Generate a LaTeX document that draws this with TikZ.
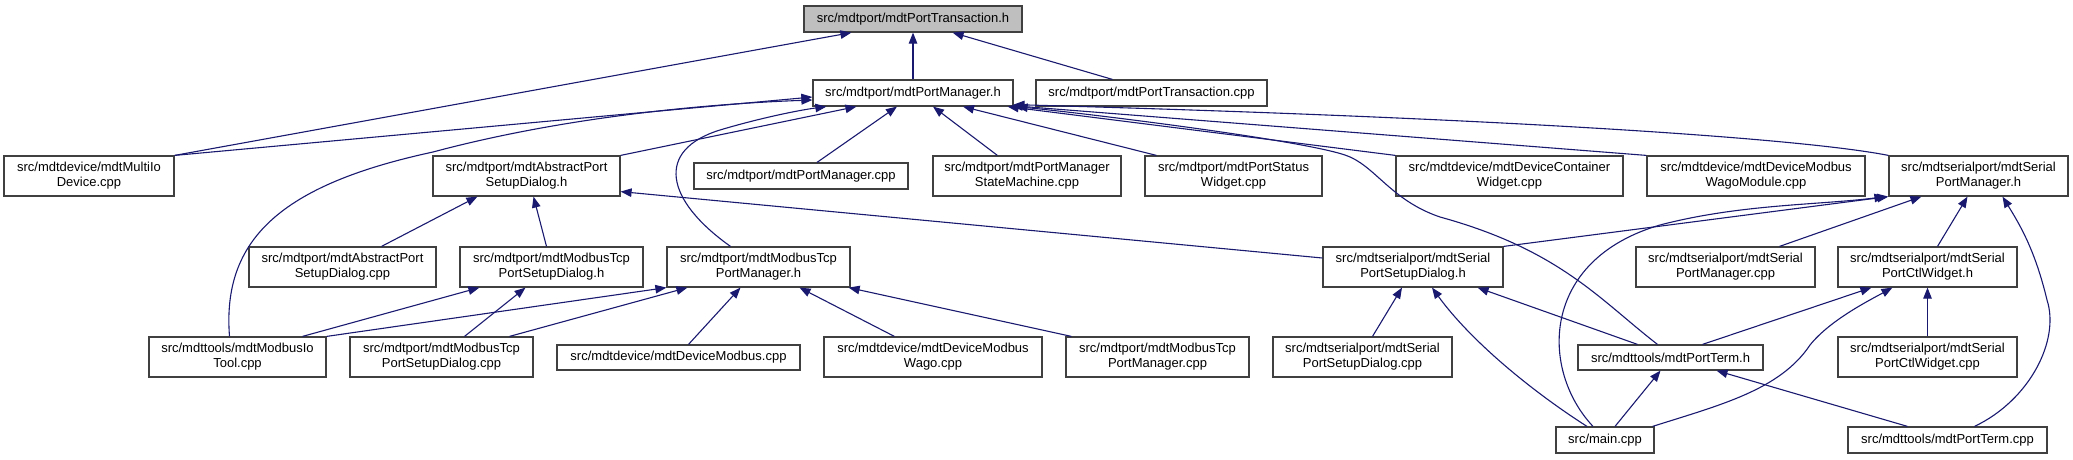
\documentclass[tikz,border=0pt]{standalone}
\usepackage{fontspec}
\setmainfont{Liberation Sans}
\usepackage{tikz}
\usetikzlibrary{arrows.meta}
\definecolor{edgeblue}{RGB}{25,25,112}
\definecolor{rootgray}{RGB}{191,191,191}
\definecolor{boxline}{RGB}{64,64,64}

\begin{document}
\begin{tikzpicture}[x=1pt,y=-1pt,>={Triangle[length=11pt,width=8.5pt]}]
\tikzset{b/.style={draw=boxline,line width=1.2pt,fill=white,inner sep=0pt,minimum height=40pt,align=center,font=\fontsize{13}{15}\selectfont},
e/.style={edgeblue,line width=1.1pt}}
\useasboundingbox (0,0) rectangle (2073,459);
% top
\node[b,fill=rootgray,minimum width=218pt,minimum height=26pt] (transh) at (913,19) {src/mdtport/mdtPortTransaction.h};
\node[b,minimum width=200pt,minimum height=26pt] (mgrh) at (913,93) {src/mdtport/mdtPortManager.h};
\node[b,minimum width=231pt,minimum height=26pt] (transcpp) at (1151.5,93) {src/mdtport/mdtPortTransaction.cpp};
% row 2
\node[b,minimum width=170pt] (multiio) at (89,176) {src/mdtdevice/mdtMultiIo\\Device.cpp};
\node[b,minimum width=187pt] (absdlgh) at (526.5,176) {src/mdtport/mdtAbstractPort\\SetupDialog.h};
\node[b,minimum width=214pt,minimum height=26pt] (mgrcpp) at (801,176) {src/mdtport/mdtPortManager.cpp};
\node[b,minimum width=188pt] (statem) at (1027,176) {src/mdtport/mdtPortManager\\StateMachine.cpp};
\node[b,minimum width=177pt] (status) at (1233.5,176) {src/mdtport/mdtPortStatus\\Widget.cpp};
\node[b,minimum width=227pt] (contw) at (1509.5,176) {src/mdtdevice/mdtDeviceContainer\\Widget.cpp};
\node[b,minimum width=218pt] (wagomod) at (1756,176) {src/mdtdevice/mdtDeviceModbus\\WagoModule.cpp};
\node[b,minimum width=179pt] (sermgrh) at (1978.5,176) {src/mdtserialport/mdtSerial\\PortManager.h};
% row 3
\node[b,minimum width=187pt] (absdlgcpp) at (342.5,267) {src/mdtport/mdtAbstractPort\\SetupDialog.cpp};
\node[b,minimum width=183pt] (tcpdlgh) at (551.5,267) {src/mdtport/mdtModbusTcp\\PortSetupDialog.h};
\node[b,minimum width=183pt] (tcpmgrh) at (758.5,267) {src/mdtport/mdtModbusTcp\\PortManager.h};
\node[b,minimum width=180pt] (serdlgh) at (1413,267) {src/mdtserialport/mdtSerial\\PortSetupDialog.h};
\node[b,minimum width=179pt] (sermgrcpp) at (1725.5,267) {src/mdtserialport/mdtSerial\\PortManager.cpp};
\node[b,minimum width=179pt] (serctlh) at (1927.5,267) {src/mdtserialport/mdtSerial\\PortCtlWidget.h};
% row 4
\node[b,minimum width=177pt] (modbusio) at (237.5,357) {src/mdttools/mdtModbusIo\\Tool.cpp};
\node[b,minimum width=183pt] (tcpdlgcpp) at (441.5,357) {src/mdtport/mdtModbusTcp\\PortSetupDialog.cpp};
\node[b,minimum width=243pt,minimum height=25pt] (devmodbus) at (678.5,357.5) {src/mdtdevice/mdtDeviceModbus.cpp};
\node[b,minimum width=218pt] (wago) at (933,357) {src/mdtdevice/mdtDeviceModbus\\Wago.cpp};
\node[b,minimum width=183pt] (tcpmgrcpp) at (1157.5,357) {src/mdtport/mdtModbusTcp\\PortManager.cpp};
\node[b,minimum width=179pt] (serdlgcpp) at (1362.5,357) {src/mdtserialport/mdtSerial\\PortSetupDialog.cpp};
\node[b,minimum width=185pt,minimum height=25pt] (porttermh) at (1670.5,357.5) {src/mdttools/mdtPortTerm.h};
\node[b,minimum width=179pt] (serctlcpp) at (1927.5,357) {src/mdtserialport/mdtSerial\\PortCtlWidget.cpp};
% bottom
\node[b,minimum width=98pt,minimum height=26pt] (main) at (1605,440) {src/main.cpp};
\node[b,minimum width=199pt,minimum height=26pt] (porttermcpp) at (1947.5,440) {src/mdttools/mdtPortTerm.cpp};
% includes of mdtPortTransaction.h
\draw[->,e] (multiio.north east) -- ([xshift=48]transh.south west);
\draw[->,e] (mgrh.north) -- (transh.south);
\draw[->,e] ([xshift=77]transcpp.north west) -- ([xshift=-70]transh.south east);
% includes of mdtPortManager.h
\draw[->,e] (multiio.north east) -- ([yshift=-4]mgrh.west);
\draw[->,e] ([xshift=-8]modbusio.north) .. controls (222,240) and (280,185) .. (433,152) .. controls (560,118) and (700,104) .. ([yshift=-7]mgrh.west);
\draw[->,e] (absdlgh.north east) -- ([xshift=44]mgrh.south west);
\draw[->,e] ([xshift=-28]tcpmgrh.north) .. controls (665,200) and (655,150) .. (720,130) .. controls (760,118) and (800,110) .. ([xshift=14]mgrh.south west);
\draw[->,e] ([xshift=16]mgrcpp.north) -- ([xshift=-16]mgrh.south);
\draw[->,e] ([xshift=65]statem.north west) -- ([xshift=20]mgrh.south);
\draw[->,e] ([xshift=12]status.north west) -- ([xshift=50]mgrh.south);
\draw[->,e] (contw.north west) -- ([xshift=-6]mgrh.south east);
\draw[->,e] (wagomod.north west) -- ([xshift=-2,yshift=1]mgrh.south east);
\draw[->,e] (sermgrh.north west) .. controls (1800,138) and (1500,118) .. ([yshift=2]mgrh.south east);
\draw[->,e] ([xshift=-13]porttermh.north) .. controls (1600,300) and (1560,250) .. (1440,217) .. controls (1390,200) and (1375,165) .. (1345,155) .. controls (1300,140) and (1100,115) .. ([xshift=3]mgrh.south east);
% includes of mdtAbstractPortSetupDialog.h
\draw[->,e] ([xshift=39]absdlgcpp.north) -- ([xshift=45]absdlgh.south west);
\draw[->,e] ([xshift=-5]tcpdlgh.north) -- ([xshift=7]absdlgh.south);
\draw[->,e] ([yshift=9]serdlgh.west) -- ([yshift=5]absdlgh.south east);
% includes of mdtModbusTcpPortSetupDialog.h
\draw[->,e] ([xshift=65]modbusio.north) -- ([xshift=20]tcpdlgh.south west);
\draw[->,e] ([xshift=23]tcpdlgcpp.north) -- ([xshift=-26]tcpdlgh.south);
% includes of mdtModbusTcpPortManager.h
\draw[->,e] (modbusio.north east) -- (tcpmgrh.south west);
\draw[->,e] ([xshift=68]tcpdlgcpp.north) -- ([xshift=21]tcpmgrh.south west);
\draw[->,e] ([xshift=10]devmodbus.north) -- ([xshift=-18]tcpmgrh.south);
\draw[->,e] ([xshift=71]wago.north west) -- ([xshift=41]tcpmgrh.south);
\draw[->,e] ([xshift=6]tcpmgrcpp.north west) -- ([xshift=-2]tcpmgrh.south east);
% includes of mdtSerialPortSetupDialog.h
\draw[->,e] ([xshift=10]serdlgcpp.north) -- ([xshift=-11]serdlgh.south);
\draw[->,e] ([xshift=-18]main.north) .. controls (1530,390) and (1470,340) .. ([xshift=19]serdlgh.south);
\draw[->,e] ([xshift=-33]porttermh.north) -- ([xshift=-26]serdlgh.south east);
% includes of mdtSerialPortManager.h
\draw[->,e] (serdlgh.north east) -- (sermgrh.south west);
\draw[->,e] ([xshift=-12]main.north) .. controls (1540,370) and (1540,260) .. (1660,225) .. controls (1740,204) and (1820,205) .. ([xshift=-3]sermgrh.south west);
\draw[->,e] ([xshift=54]sermgrcpp.north) -- ([xshift=33]sermgrh.south west);
\draw[->,e] ([xshift=10]serctlh.north) -- ([xshift=-11]sermgrh.south);
\draw[->,e] ([xshift=27]porttermcpp.north) .. controls (2030,400) and (2060,340) .. (2047,300) .. controls (2035,250) and (2020,225) .. ([xshift=24]sermgrh.south);
% includes of mdtSerialPortCtlWidget.h
\draw[->,e] ([xshift=32]porttermh.north) -- ([xshift=34]serctlh.south west);
\draw[->,e] ([xshift=-2]main.north east) .. controls (1720,405) and (1780,390) .. (1810,345) .. controls (1830,320) and (1870,300) .. ([xshift=55]serctlh.south west);
\draw[->,e] (serctlcpp.north) -- (serctlh.south);
% includes of mdtPortTerm.h
\draw[->,e] ([xshift=10]main.north) -- ([xshift=-10]porttermh.south);
\draw[->,e] ([xshift=-40]porttermcpp.north) -- ([xshift=46]porttermh.south);
\end{tikzpicture}
\end{document}
